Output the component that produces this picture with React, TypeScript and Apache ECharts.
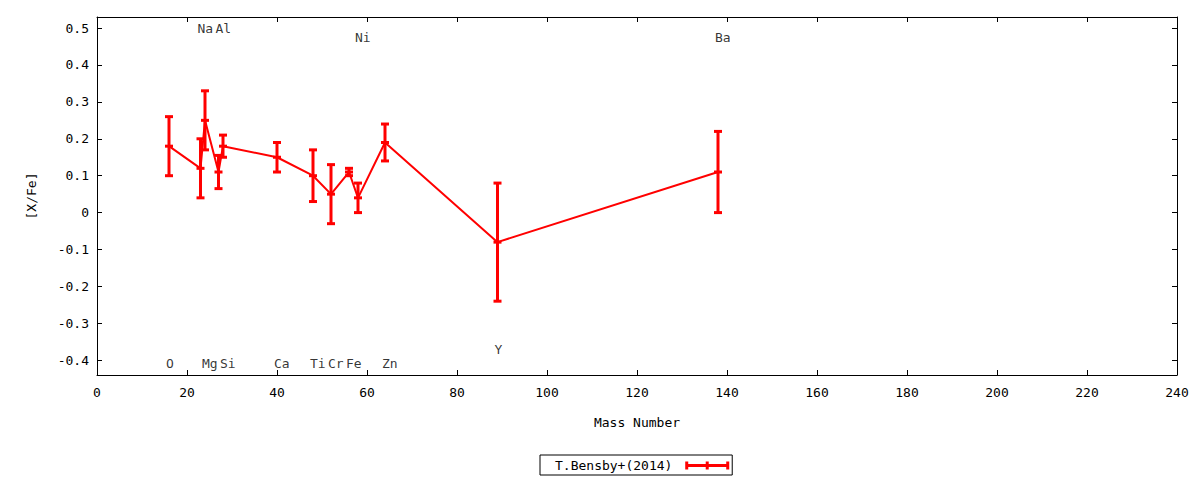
import React, { useEffect, useRef } from "react";
import * as echarts from "echarts";

// Element data (mass number, [X/Fe], error)
const elements = ["O", "Na", "Mg", "Al", "Si", "Ca", "Ti", "Cr", "Fe", "Ni", "Zn", "Y", "Ba"];
const massNumbers = [16, 23, 24, 27, 28, 40, 48, 52, 56, 58, 64, 89, 138];
const xfeValues = [0.18, 0.12, 0.25, 0.11, 0.18, 0.15, 0.10, 0.05, 0.11, 0.04, 0.19, -0.08, 0.11];
const xfeErrors = [0.08, 0.08, 0.08, 0.045, 0.03, 0.04, 0.07, 0.08, 0.01, 0.04, 0.05, 0.16, 0.11];
// Element label heights (in [X/Fe] units)
const labelHeights = [-0.41, 0.5, -0.41, 0.5, -0.41, -0.41, -0.41, -0.41, -0.41, 0.475, -0.41, -0.37, 0.475];

const yTicks = [-0.4, -0.3, -0.2, -0.1, 0, 0.1, 0.2, 0.3, 0.4, 0.5];
const seriesName = "T.Bensby+(2014)";

const FONT = "DejaVu Sans Mono";
const FS = 13;
const RED = "#ff0000";

export default function App() {
  const ref = useRef<HTMLDivElement>(null);

  useEffect(() => {
    if (!ref.current) return;
    const chart = echarts.init(ref.current, null, { renderer: "svg" });

    const errData = massNumbers.map((m, i) => [m, xfeValues[i], xfeErrors[i]]);
    const lineData = massNumbers.map((m, i) => [m, xfeValues[i]]);
    const labelData = massNumbers.map((m, i) => ({ name: elements[i], value: [m, labelHeights[i]] }));

    const fmtY = (v: number) => {
      const r = Math.round(v * 10) / 10;
      return r === 0 ? "0" : String(r);
    };

    const axisCommon = {
      axisLine: { show: true, onZero: false, lineStyle: { color: "#000", width: 1 } },
      axisTick: { show: true, inside: true, length: 5, lineStyle: { color: "#000", width: 1 } },
      splitLine: { show: false },
    };

    chart.setOption({
      animation: false,
      backgroundColor: "#fff",
      textStyle: { fontFamily: FONT },
      grid: { left: 97, right: 23, top: 17, bottom: 105, containLabel: false },
      legend: {
        data: [
          {
            name: seriesName,
            icon: "path://M0 0h3v8h-3z M20.5 0h3v8h-3z M41 0h3v8h-3z M0 2.5h44v3h-44z",
          },
        ],
        formatter: (n: string) => n + "\u00a0",
        left: 540,
        top: 455,
        align: "right",
        itemWidth: 44,
        itemHeight: 8,
        padding: [4, 3, 3, 15],
        borderColor: "#000",
        borderWidth: 1,
        borderRadius: 0,
        textStyle: { fontFamily: FONT, fontSize: FS, color: "#000" },
        selectedMode: false,
      },
      xAxis: [
        {
          type: "value",
          min: 0,
          max: 240,
          interval: 20,
          position: "bottom",
          name: "Mass Number",
          nameLocation: "middle",
          nameGap: 41,
          nameTextStyle: { fontFamily: FONT, fontSize: FS, color: "#000" },
          axisLabel: { margin: 11, fontFamily: FONT, fontSize: FS, color: "#000" },
          ...axisCommon,
        },
        {
          type: "value",
          min: 0,
          max: 240,
          interval: 20,
          position: "top",
          axisLabel: { show: false },
          ...axisCommon,
        },
      ],
      yAxis: [
        {
          type: "value",
          min: -0.44,
          max: 0.53,
          position: "left",
          name: "[X/Fe]",
          nameLocation: "middle",
          nameGap: 59,
          nameTextStyle: { fontFamily: FONT, fontSize: FS, color: "#000" },
          axisLabel: {
            customValues: yTicks,
            margin: 8,
            fontFamily: FONT,
            fontSize: FS,
            color: "#000",
            formatter: (v: number) => fmtY(v),
          },
          ...axisCommon,
          axisTick: { ...axisCommon.axisTick, customValues: yTicks },
        },
        {
          type: "value",
          min: -0.44,
          max: 0.53,
          position: "right",
          axisLabel: { show: false, customValues: yTicks },
          ...axisCommon,
          axisTick: { ...axisCommon.axisTick, customValues: yTicks },
        },
      ],
      series: [
        {
          name: seriesName,
          type: "line",
          data: lineData,
          showSymbol: false,
          symbol: "none",
          lineStyle: { color: RED, width: 2 },
          itemStyle: { color: RED },
          z: 2,
          silent: true,
        },
        {
          name: seriesName,
          type: "custom",
          data: errData,
          encode: { x: 0, y: 1 },
          itemStyle: { color: RED },
          z: 3,
          renderItem: (params: any, api: any) => {
            const x = api.value(0);
            const y = api.value(1);
            const e = api.value(2);
            const pTop = api.coord([x, y + e]);
            const pBot = api.coord([x, y - e]);
            const pMid = api.coord([x, y]);
            const hw = 4;
            const style = { stroke: RED, lineWidth: 3 };
            const hline = (p: number[]) => ({
              type: "line",
              shape: { x1: p[0] - hw, y1: p[1], x2: p[0] + hw, y2: p[1] },
              style,
            });
            return {
              type: "group",
              children: [
                {
                  type: "line",
                  shape: { x1: pTop[0], y1: pTop[1], x2: pBot[0], y2: pBot[1] },
                  style,
                },
                hline(pTop),
                hline(pBot),
                hline(pMid),
              ],
            };
          },
        },
        {
          name: "labels",
          type: "scatter",
          data: labelData,
          symbolSize: 0,
          silent: true,
          z: 4,
          label: {
            show: true,
            position: "inside",
            align: "left",
            verticalAlign: "middle",
            offset: [-3, 0],
            formatter: (p: any) => p.name,
            fontFamily: FONT,
            fontSize: FS,
            color: "#000",
          },
        },
      ],
    });

    return () => chart.dispose();
  }, []);

  return (
    <div
      ref={ref}
      style={{ position: "fixed", left: 0, top: 0, width: 1200, height: 480 }}
    />
  );
}
